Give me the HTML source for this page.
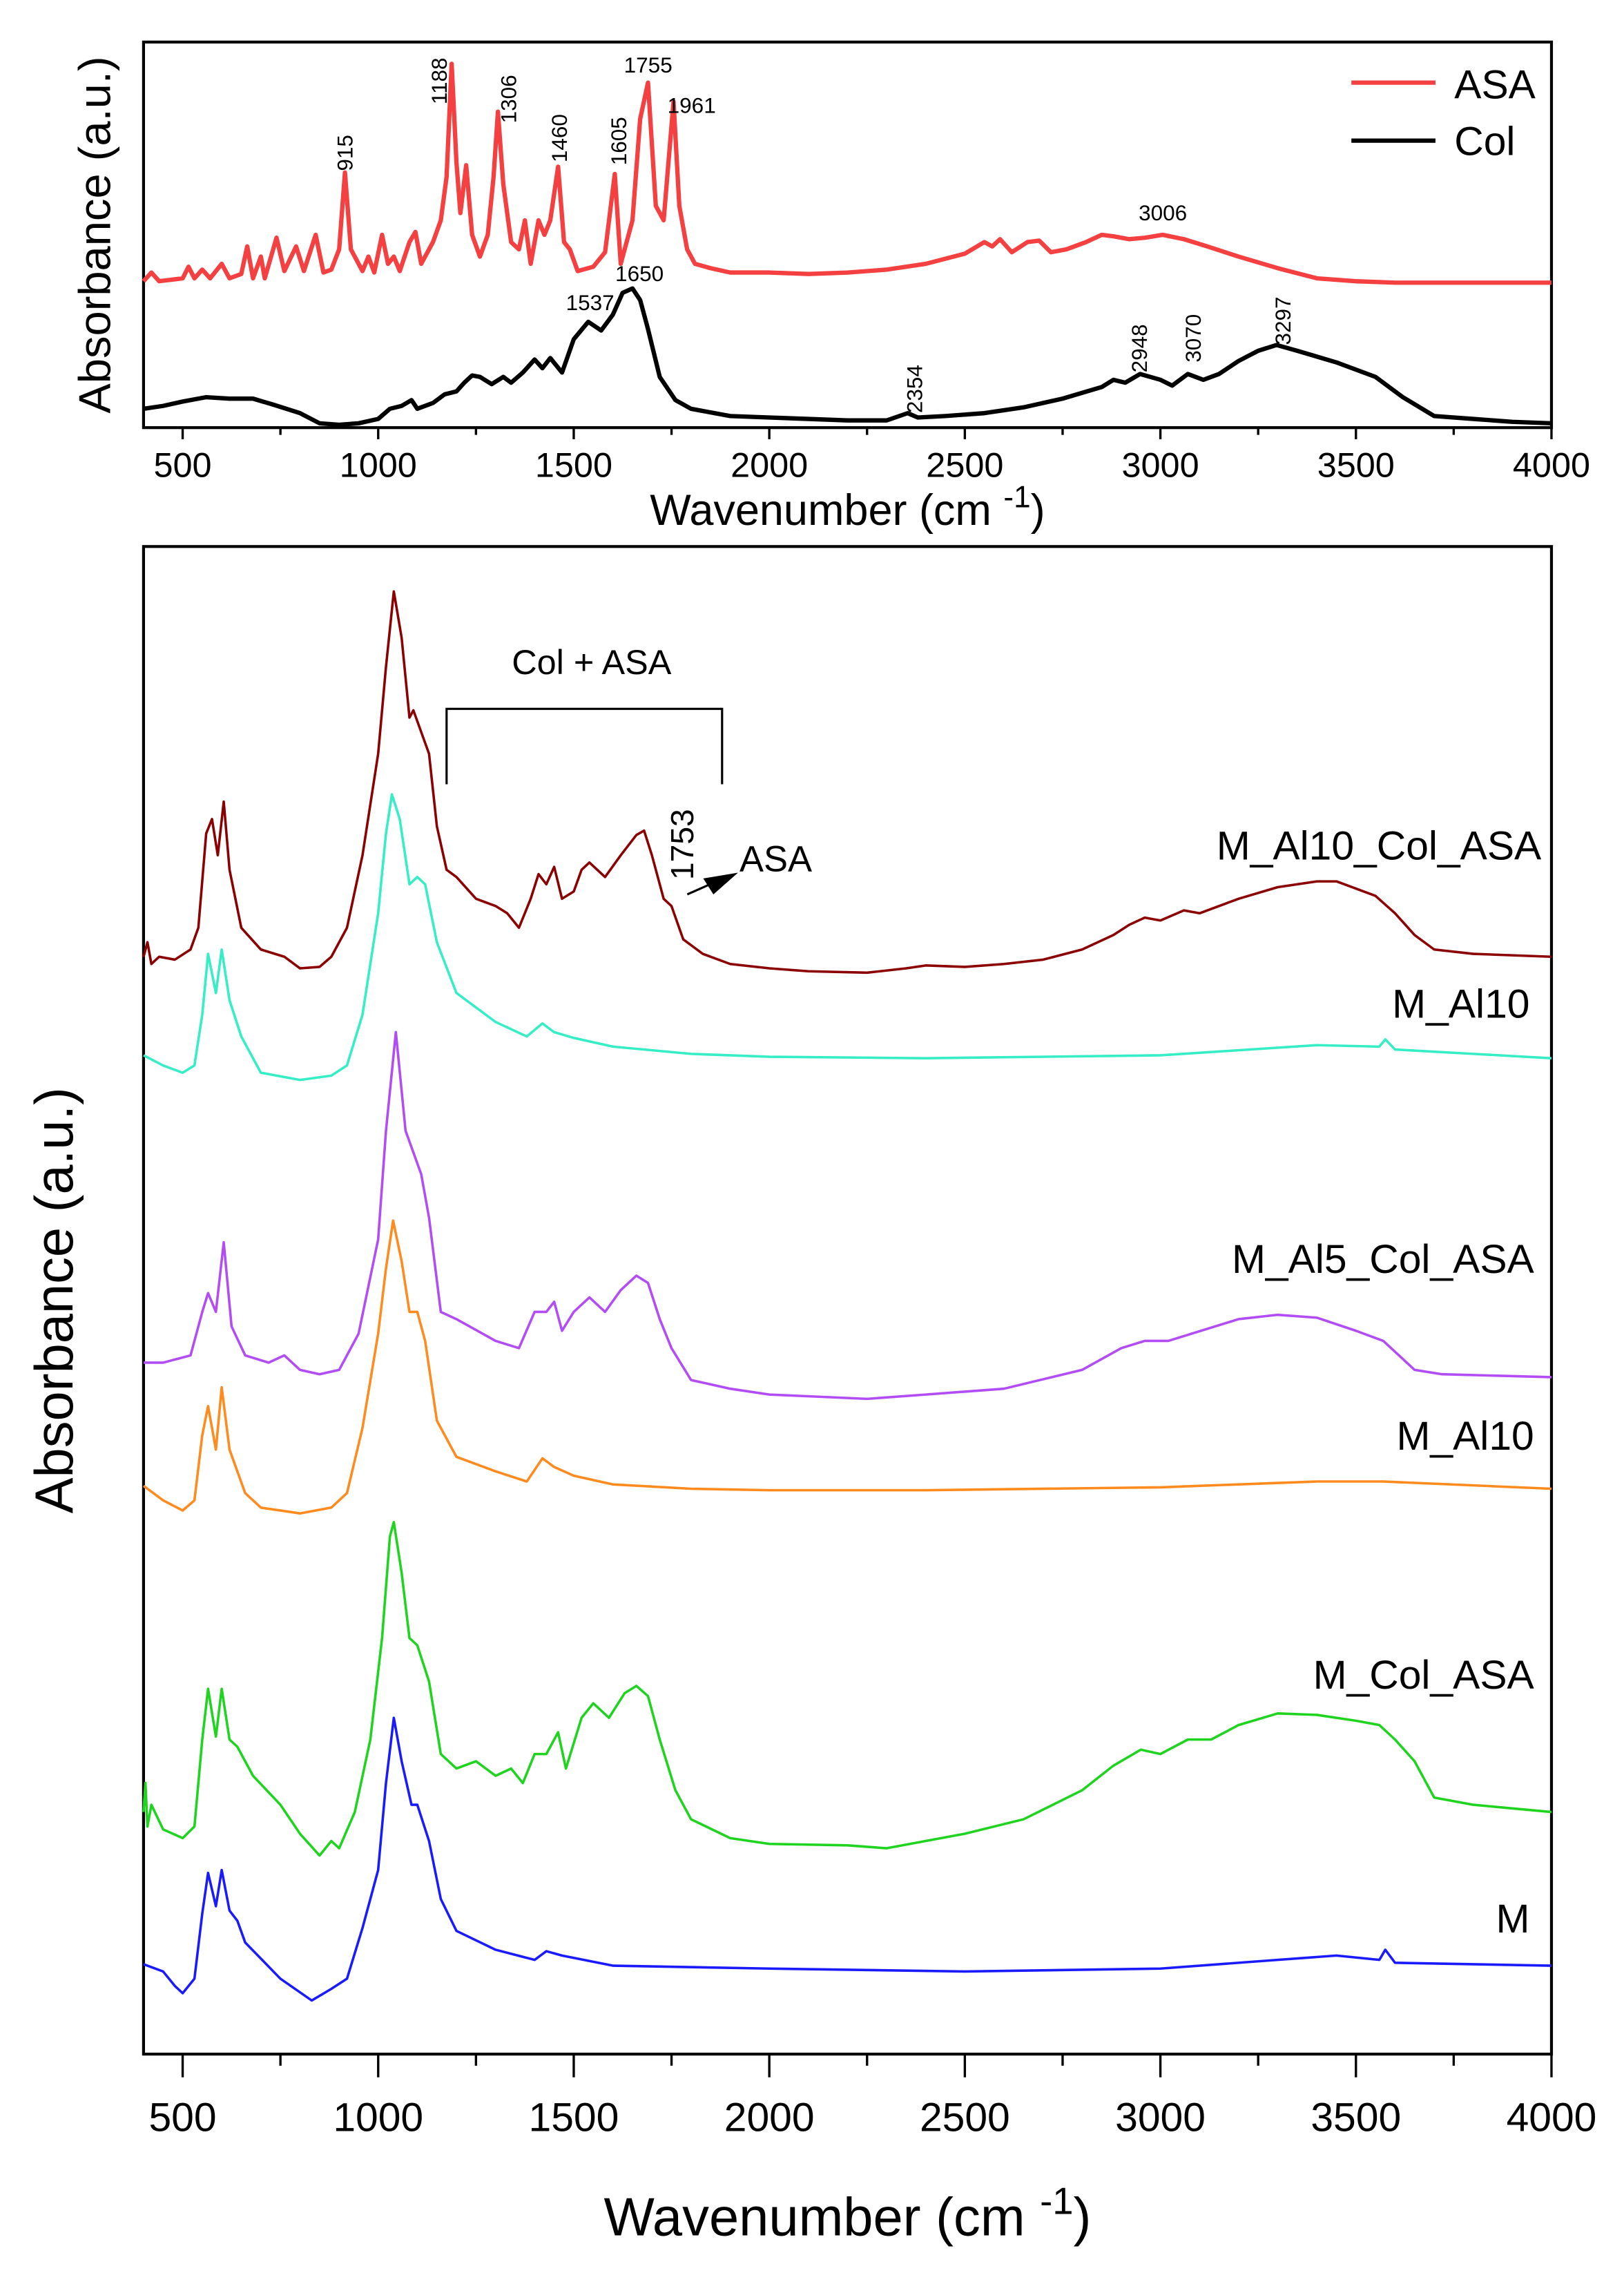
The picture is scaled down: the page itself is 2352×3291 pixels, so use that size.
<!DOCTYPE html>
<html><head><meta charset="utf-8"><style>
html,body{margin:0;padding:0;background:#fff;}
svg{display:block;}
text{font-family:"Liberation Sans",Arial,sans-serif;fill:#000;}
</style></head><body>
<svg id="fig" width="2352" height="3291" viewBox="0 0 1132 1568" preserveAspectRatio="none" xmlns="http://www.w3.org/2000/svg">
<g transform="scale(1.0107,1)">
<g id="top"></g>
<g id="bot"></g>
</g>
</svg>
<script>
const topWn_ASA=[400,420,440,500,515,530,550,570,600,620,650,665,680,700,710,740,760,790,810,840,860,880,900,915,930,960,975,990,1010,1025,1040,1055,1080,1095,1110,1140,1160,1175,1188,1200,1210,1225,1240,1260,1280,1295,1306,1320,1340,1360,1375,1390,1410,1425,1440,1460,1475,1490,1510,1550,1580,1605,1620,1650,1670,1690,1710,1730,1755,1770,1790,1810,1850,1900,2000,2100,2200,2300,2400,2500,2550,2570,2590,2620,2660,2690,2720,2760,2810,2850,2880,2920,2960,3006,3060,3120,3200,3300,3400,3500,3600,4000];
const topAbs_ASA=[100,106,100,102,110,102,108,102,112,102,105,124,102,117,102,130,107,124,107,132,106,108,122,175,122,107,117,106,132,112,117,107,127,134,112,127,142,172,250,182,147,180,132,117,132,172,217,167,127,122,142,112,142,132,142,179,127,122,107,110,120,174,112,142,212,237,152,142,224,152,122,112,109,106,106,105,106,108,112,119,127,124,129,120,127,128,120,122,127,132,131,129,130,132,129,124,117,109,102,100,99,99];
const topWn_Col=[400,450,500,560,620,680,730,800,850,900,950,1000,1030,1060,1085,1100,1140,1170,1200,1220,1240,1260,1290,1320,1340,1370,1400,1420,1440,1470,1500,1537,1570,1600,1625,1650,1670,1690,1720,1760,1800,1900,2000,2100,2200,2300,2354,2380,2450,2550,2650,2750,2850,2880,2910,2948,3000,3030,3070,3110,3150,3200,3250,3297,3350,3450,3550,3620,3700,3800,3900,4000];
const topAbs_Col=[12,14,17,20,19,19,15,9,2,1,2,5,12,14,18,12,16,22,24,30,35,34,29,34,30,37,46,40,47,37,60,72,66,77,92,95,87,67,34,18,12,7,6,5,4,4,9,6,7,9,13,19,27,32,30,36,32,28,36,32,36,45,52,56,52,44,34,20,7,5,3,2];

const wn_MAl10ColASA=[400,410,420,440,480,520,540,560,575,590,605,620,650,700,760,800,850,880,920,960,1000,1020,1040,1060,1080,1090,1110,1130,1150,1175,1200,1250,1300,1330,1360,1390,1410,1430,1450,1470,1500,1520,1540,1580,1620,1660,1680,1700,1730,1750,1780,1830,1900,2000,2100,2250,2350,2400,2500,2600,2700,2800,2880,2920,2960,3000,3060,3100,3200,3300,3400,3450,3550,3600,3650,3700,3800,4000];
const abs_MAl10ColASA=[756,766,751,756,754,761,776,841,851,826,863,816,776,761,756,748,749,756,776,826,896,956,1008,976,921,926,911,896,846,816,811,796,791,786,776,796,813,806,818,796,801,816,821,811,826,840,843,826,796,791,768,758,751,748,746,745,748,750,749,751,754,761,771,778,783,781,788,786,796,804,808,808,798,786,771,761,758,756];
const wn_MAl10a=[400,450,500,530,550,565,585,600,620,650,700,800,880,920,960,1000,1020,1035,1055,1080,1100,1120,1150,1200,1300,1380,1420,1450,1500,1600,1800,2000,2400,3000,3400,3560,3575,3600,3800,4000];
const abs_MAl10a=[688,681,676,681,716,758,731,761,726,701,676,671,674,681,716,786,841,868,851,806,811,806,766,731,711,701,710,704,700,694,689,687,686,688,695,694,699,692,689,686];
const wn_MAl5ColASA=[400,450,520,550,565,585,605,625,660,720,760,800,850,900,950,1000,1020,1045,1070,1090,1110,1130,1160,1200,1300,1360,1400,1430,1450,1470,1500,1540,1580,1620,1660,1690,1720,1750,1800,1900,2000,2250,2400,2600,2800,2900,2960,3020,3080,3200,3300,3400,3500,3570,3650,3720,4000];
const abs_MAl5ColASA=[476,476,481,511,524,511,559,501,481,476,481,471,468,471,496,561,636,704,636,621,606,576,511,506,491,486,511,511,518,498,511,521,511,526,536,531,506,486,464,458,454,451,454,458,471,486,491,491,496,506,509,507,498,491,471,468,466];
const wn_MAl10b=[400,450,500,530,550,565,585,600,620,660,700,800,880,920,960,1000,1020,1038,1060,1080,1100,1120,1150,1200,1300,1380,1420,1450,1500,1600,1800,2000,2400,3000,3400,3570,4000];
const abs_MAl10b=[391,381,374,381,426,446,416,459,416,386,376,372,376,386,431,496,541,574,546,511,511,491,436,411,401,394,410,404,398,392,389,388,388,390,394,394,389];
const wn_MColASA=[400,405,410,420,450,500,530,550,565,585,600,620,640,680,750,800,850,880,900,940,980,1010,1030,1040,1060,1080,1100,1130,1160,1200,1250,1300,1340,1370,1400,1430,1460,1480,1520,1550,1590,1630,1660,1690,1720,1760,1800,1900,2000,2200,2300,2400,2500,2650,2800,2880,2950,3000,3070,3130,3200,3300,3400,3500,3560,3600,3650,3700,3800,4000];
const abs_MColASA=[166,186,156,171,154,148,156,216,251,218,251,216,211,191,171,151,136,146,141,166,216,286,356,366,331,286,281,256,206,196,201,191,196,186,206,206,221,196,231,241,231,248,253,246,216,181,161,148,144,143,141,146,151,161,181,198,209,206,216,216,226,234,233,229,226,216,201,176,171,166];
const wn_M=[400,450,480,500,530,550,565,585,600,620,640,660,750,830,880,920,960,1000,1020,1040,1060,1085,1100,1130,1160,1200,1300,1400,1430,1470,1600,2000,2500,3000,3300,3450,3560,3575,3600,4000];
const abs_M=[61,56,46,41,51,96,124,101,126,98,91,76,51,36,44,51,86,126,186,231,201,171,171,146,106,84,71,64,70,67,60,58,56,58,64,67,64,71,62,60];

const xTicks=[500,1000,1500,2000,2500,3000,3500,4000];
const xMinor=[750,1250,1750,2250,2750,3250,3750];

const NS='http://www.w3.org/2000/svg';
function mk(parent,tag,attrs,txt){const e=document.createElementNS(NS,tag);for(const k in attrs)e.setAttribute(k,attrs[k]);if(txt!==undefined)e.textContent=txt;parent.appendChild(e);return e;}
const L=99,R=1070;
function xs(w){return L+(w-400)*(R-L)/3600;}

function axes(g,top,bottom,fs,tfs,titleY,labY,yTitleX,tMaj,tMin,ytfs){
  const fr=mk(g,'rect',{x:L,y:top,width:R-L,height:bottom-top,fill:'none',stroke:'#000','stroke-width':2});
  
  
  xTicks.forEach(t=>{
    const l=mk(g,'line',{x1:xs(t),x2:xs(t),y1:bottom,y2:bottom+tMaj,stroke:'#000','stroke-width':1.6});
    
    
    const tx=mk(g,'text',{x:xs(t),y:labY,'text-anchor':'middle','font-size':fs},String(t));
    
    
  });
  xMinor.forEach(t=>{
    const l=mk(g,'line',{x1:xs(t),x2:xs(t),y1:bottom,y2:bottom+tMin,stroke:'#000','stroke-width':1.6});
    
    
  });
  const xt=mk(g,'text',{x:(L+R)/2,y:titleY,'text-anchor':'middle','font-size':tfs});
  
  
  xt.appendChild(document.createTextNode('Wavenumber (cm '));
  mk(xt,'tspan',{dy:-tfs*0.4,'font-size':tfs*0.7},'-1');
  mk(xt,'tspan',{dy:tfs*0.4},')');
  const yt=mk(g,'text',{x:0,y:0,'text-anchor':'middle','font-size':ytfs,transform:`translate(${yTitleX},${(top+bottom)/2}) rotate(-90)`},'Absorbance (a.u.)');
  
  
}
function series(g,wn,ab,base,color,w,name){
  let d='';
  for(let i=0;i<wn.length;i++){d+=(i?'L':'M')+xs(wn[i]).toFixed(1)+','+(base-ab[i]).toFixed(1);}
  const p=mk(g,'path',{d:d,fill:'none',stroke:color,'stroke-width':w,'stroke-linejoin':'round'});
  
  
}
function label(g,x,y,s,fs,anchor,rot,name){
  const a={x:x,y:y,'font-size':fs,'text-anchor':anchor||'start'};
  if(rot)a.transform=`rotate(-90 ${x} ${y})`;
  const t=mk(g,'text',a,s);
  
  
}
const gt=document.getElementById('top');
axes(gt,29,295,24,30,362,329,76,8,5,31);
series(gt,topWn_ASA,topAbs_ASA,294,'#f44040',3,'asa-series');
series(gt,topWn_Col,topAbs_Col,294,'#000',3,'col-series');
let lg=mk(gt,'line',{x1:932,x2:990,y1:57,y2:57,stroke:'#f44040','stroke-width':3});


lg=mk(gt,'line',{x1:932,x2:990,y1:97,y2:97,stroke:'#000','stroke-width':3});


label(gt,1003,68,'ASA',28,'start',false,'legend-asa-label');
label(gt,1003,107,'Col',28,'start',false,'legend-col-label');
label(gt,243,118,'915',15,'start',true,'peak-915');
label(gt,308,72,'1188',15,'start',true,'peak-1188');
label(gt,356,85,'1306',15,'start',true,'peak-1306');
label(gt,391,112,'1460',15,'start',true,'peak-1460');
label(gt,432,114,'1605',15,'start',true,'peak-1605');
label(gt,447,50,'1755',15,'middle',false,'peak-1755');
label(gt,477,78,'1961',15,'middle',false,'peak-1961');
label(gt,802,152,'3006',15,'middle',false,'peak-3006');
label(gt,441,194,'1650',15,'middle',false,'peak-1650');
label(gt,407,214,'1537',15,'middle',false,'peak-1537');
label(gt,636,285,'2354',15,'start',true,'peak-2354');
label(gt,791,257,'2948',15,'start',true,'peak-2948');
label(gt,828,250,'3070',15,'start',true,'peak-3070');
label(gt,890,238,'3297',15,'start',true,'peak-3297');

const gb=document.getElementById('bot');
axes(gb,377,1417,28,37,1542,1470,50,16,8,37);
series(gb,wn_MAl10ColASA,abs_MAl10ColASA,1416,'#8b0000',1.7,'m-al10-col-asa-series');
series(gb,wn_MAl10a,abs_MAl10a,1416,'#35eec6',1.7,'m-al10-cyan-series');
series(gb,wn_MAl5ColASA,abs_MAl5ColASA,1416,'#b24df5',1.7,'m-al5-col-asa-series');
series(gb,wn_MAl10b,abs_MAl10b,1416,'#ff8a1e',1.7,'m-al10-orange-series');
series(gb,wn_MColASA,abs_MColASA,1416,'#1fd41f',1.7,'m-col-asa-series');
series(gb,wn_M,abs_M,1416,'#1a1aff',1.7,'m-series');
label(gb,1063,593,'M_Al10_Col_ASA',28,'end',false,'label-m-al10-col-asa');
label(gb,1055,702,'M_Al10',28,'end',false,'label-m-al10-top');
label(gb,1058,878,'M_Al5_Col_ASA',28,'end',false,'label-m-al5-col-asa');
label(gb,1058,1000,'M_Al10',28,'end',false,'label-m-al10-bottom');
label(gb,1058,1165,'M_Col_ASA',28,'end',false,'label-m-col-asa');
label(gb,1055,1333,'M',28,'end',false,'label-m');
label(gb,408,465,'Col + ASA',24,'middle',false,'bracket-label');
const br=mk(gb,'path',{d:'M308,541L308,489L498,489L498,541',fill:'none',stroke:'#000','stroke-width':1.5});


label(gb,478,607,'1753',22,'start',true,'peak-1753');
const ar=mk(gb,'line',{x1:474,y1:617,x2:492,y2:609,stroke:'#000','stroke-width':1.5});


const ah=mk(gb,'polygon',{points:'509,602 485,606 492,617',fill:'#000'});


label(gb,510,601,'ASA',25,'start',false,'asa-annotation');
</script>
</body></html>
